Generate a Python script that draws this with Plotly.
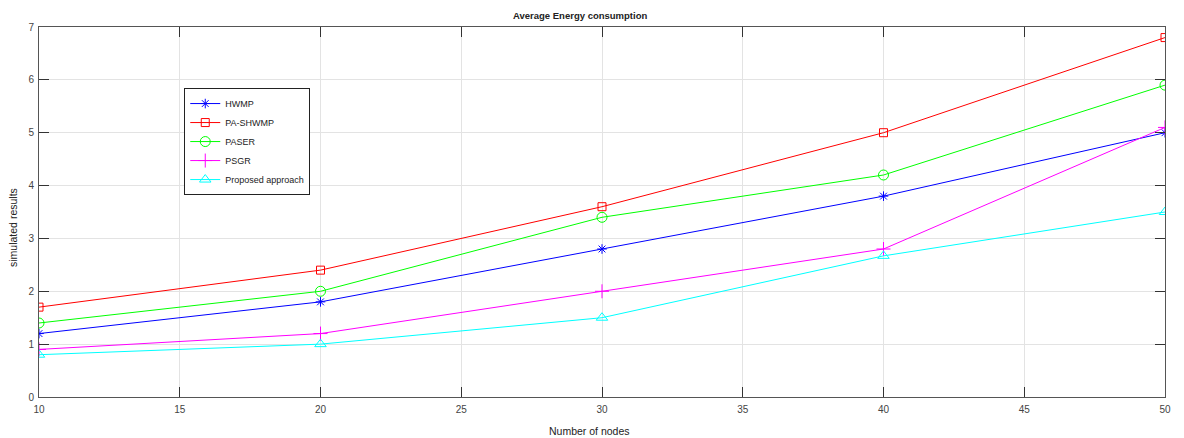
import plotly.graph_objects as go

nodes = [10, 20, 30, 40, 50]
hwmp = [1.2, 1.8, 2.8, 3.8, 5.0]
pa_shwmp = [1.7, 2.4, 3.6, 5.0, 6.8]
paser = [1.4, 2.0, 3.4, 4.2, 5.9]
psgr = [0.9, 1.2, 2.0, 2.8, 5.1]
proposed = [0.8, 1.0, 1.5, 2.67, 3.5]

series = [
    ("HWMP", hwmp, "#0000ff", "asterisk-open", 8),
    ("PA-SHWMP", pa_shwmp, "#ff0000", "square-open", 8),
    ("PASER", paser, "#00ff00", "circle-open", 10),
    ("PSGR", psgr, "#ff00ff", "cross-thin-open", 10),
    ("Proposed approach", proposed, "#00ffff", "triangle-up-open", 10),
]

fig = go.Figure()
for name, vals, col, sym, sz in series:
    fig.add_trace(go.Scatter(
        x=nodes, y=vals, name=name, mode="lines+markers",
        line=dict(color=col, width=1),
        marker=dict(symbol=sym, size=sz, color=col, line=dict(color=col, width=1)),
    ))

axis_common = dict(
    showline=True, linecolor="#555555", linewidth=1, mirror="ticks",
    ticks="inside", ticklen=10, tickcolor="#333333", tickwidth=1,
    showgrid=True, gridcolor="#e3e3e3", gridwidth=1, zeroline=False,
    tickfont=dict(family="Liberation Sans, Arial", size=10, color="#444444"),
)

font_fam = "Liberation Sans, Arial"
fig.update_layout(
    width=1176, height=430,
    margin=dict(l=31, r=19, t=19, b=41, autoexpand=False),
    paper_bgcolor="white", plot_bgcolor="white",
    xaxis=dict(range=[10, 50], tickvals=[10, 15, 20, 25, 30, 35, 40, 45, 50],
               ticklabelstandoff=3, **axis_common),
    yaxis=dict(range=[0, 7], tickvals=[0, 1, 2, 3, 4, 5, 6, 7],
               ticklabelstandoff=2, **axis_common),
    legend=dict(x=0.129, y=0.835, xanchor="left", yanchor="top",
                bgcolor="white", bordercolor="#222222", borderwidth=1,
                font=dict(family=font_fam, size=9, color="#222222"),
                tracegroupgap=0, itemwidth=30),
    showlegend=True,
    annotations=[
        dict(text="<b>Average Energy consumption</b>", xref="paper", yref="paper",
             x=0.4805, y=1.0324, xanchor="center", yanchor="middle", showarrow=False,
             font=dict(family=font_fam, size=9.5, color="#222222")),
        dict(text="Number of nodes", xref="paper", yref="paper",
             x=0.4885, y=-0.0919, xanchor="center", yanchor="middle", showarrow=False,
             font=dict(family=font_fam, size=10.5, color="#222222")),
        dict(text="simulated results", xref="paper", yref="paper", textangle=-90,
             x=-0.0231, y=0.4595, xanchor="center", yanchor="middle", showarrow=False,
             font=dict(family=font_fam, size=10.5, color="#222222")),
    ],
)

fig.write_html("out.html")
